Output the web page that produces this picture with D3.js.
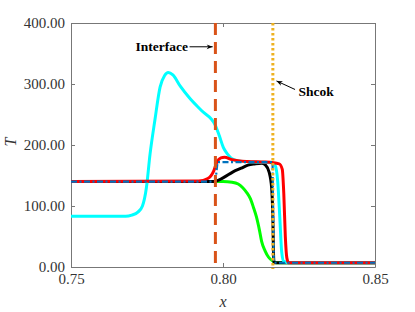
<!DOCTYPE html>
<html>
<head>
<meta charset="utf-8">
<script src="https://cdn.jsdelivr.net/npm/d3@7"></script>
<style>
  body { margin: 0; background: #fff; }
  svg text { font-family: "Liberation Serif", "Times New Roman", serif; }
</style>
</head>
<body>
<svg id="chart" width="415" height="312"></svg>
<script>
// temperature profiles
var cyanX = [0.75, 0.768, 0.770, 0.772, 0.7735, 0.7748, 0.776, 0.7776, 0.7793, 0.7808, 0.782, 0.7835, 0.786, 0.789, 0.793, 0.7974, 0.7988, 0.8001, 0.8015, 0.8028, 0.805, 0.810, 0.8160, 0.8172, 0.8180, 0.8187, 0.8193, 0.8200, 0.822, 0.85];
var cyanT = [83, 83, 85, 90, 100, 130, 185, 241, 295, 314, 319, 315, 296, 277, 256, 233, 215, 196, 185, 178, 174, 172, 171, 166, 140, 80, 25, 9, 7, 7];

var greenX = [0.75, 0.800, 0.803, 0.805, 0.8065, 0.8078, 0.809, 0.810, 0.811, 0.812, 0.8127, 0.8138, 0.815, 0.8166, 0.8175, 0.85];
var greenT = [140, 140, 139, 136, 130, 122, 112, 98, 82, 60, 42, 27, 16, 9, 7, 7];

var blackX = [0.75, 0.797, 0.800, 0.8033, 0.806, 0.8082, 0.8105, 0.8127, 0.8140, 0.8152, 0.8160, 0.8164, 0.8166, 0.8168, 0.85];
var blackT = [140, 140, 146, 156, 162, 167, 169, 170, 167, 155, 130, 80, 25, 7, 7];

var redX = [0.75, 0.792, 0.795, 0.797, 0.798, 0.7993, 0.8005, 0.803, 0.808, 0.814, 0.8185, 0.8195, 0.8200, 0.8205, 0.8210, 0.8216, 0.85];
var redT = [140, 141, 145, 158, 172, 179, 180, 176, 173, 172, 169, 160, 120, 50, 15, 7, 7];

var blueX = [0.75, 0.7975, 0.7982, 0.8163, 0.8167, 0.85];
var blueT = [140, 140, 172, 172, 7, 7];

var interfaceX = 0.7975;
var shockX = 0.8164;

var xTicks = [0.75, 0.80, 0.85];
var yTicks = [0, 100, 200, 300, 400];

var margin = {top: 23, right: 40, bottom: 45, left: 71};
var width = 415 - margin.left - margin.right;
var height = 312 - margin.top - margin.bottom;

var svg = d3.select("#chart");

svg.append("defs").append("marker")
    .attr("id", "arrow")
    .attr("viewBox", "0 0 10 10")
    .attr("refX", 10).attr("refY", 5)
    .attr("markerWidth", 9).attr("markerHeight", 6)
    .attr("markerUnits", "userSpaceOnUse")
    .attr("orient", "auto")
    .append("path")
    .attr("d", "M0,1 L10,5 L0,9 L3,5 Z")
    .attr("fill", "#000");

var g = svg.append("g").attr("transform", "translate(" + margin.left + "," + margin.top + ")");

var x = d3.scaleLinear().domain([0.75, 0.85]).range([0, width]);
var y = d3.scaleLinear().domain([0, 400]).range([height, 0]);

// axes with inward ticks, box on
var axisColor = "#777";
var xAxis = g.append("g").attr("transform", "translate(0," + height + ")")
    .call(d3.axisBottom(x).tickValues(xTicks).tickFormat(d3.format(".2f")).tickSizeInner(-4).tickSizeOuter(0).tickPadding(6));
var yAxis = g.append("g")
    .call(d3.axisLeft(y).tickValues(yTicks).tickFormat(d3.format(".2f")).tickSizeInner(-4).tickSizeOuter(0).tickPadding(6));
var xTop = g.append("g")
    .call(d3.axisTop(x).tickValues(xTicks).tickFormat("").tickSizeInner(-4).tickSizeOuter(0));
var yRight = g.append("g").attr("transform", "translate(" + width + ",0)")
    .call(d3.axisRight(y).tickValues(yTicks).tickFormat("").tickSizeInner(-4).tickSizeOuter(0));

[xAxis, yAxis, xTop, yRight].forEach(function(a) {
    a.selectAll("path, line").attr("stroke", axisColor);
    a.selectAll("text").attr("fill", "#333").style("font-size", "15px");
});

g.append("text")
    .attr("x", x(0.80)).attr("y", height + 40)
    .attr("text-anchor", "middle")
    .style("font-size", "16px").style("font-style", "italic")
    .attr("fill", "#333")
    .text("x");

g.append("text")
    .attr("transform", "translate(" + (-55) + "," + y(205) + ") rotate(-90)")
    .attr("text-anchor", "middle")
    .style("font-size", "16px").style("font-style", "italic")
    .attr("fill", "#333")
    .text("T");

function series(xs, ts) {
    return xs.map(function(v, i) { return [v, ts[i]]; });
}

var smooth = d3.line().curve(d3.curveMonotoneX)
    .x(function(d) { return x(d[0]); })
    .y(function(d) { return y(d[1]); });
var straight = d3.line()
    .x(function(d) { return x(d[0]); })
    .y(function(d) { return y(d[1]); });

var plot = g.append("g");

plot.append("path").datum(series(greenX, greenT))
    .attr("d", smooth).attr("fill", "none").attr("stroke", "#00FF00").attr("stroke-width", 3);
plot.append("path").datum(series(blackX, blackT))
    .attr("d", smooth).attr("fill", "none").attr("stroke", "#000").attr("stroke-width", 3);
plot.append("path").datum(series(cyanX, cyanT))
    .attr("d", smooth).attr("fill", "none").attr("stroke", "#00FFFF").attr("stroke-width", 3);
plot.append("path").datum(series(redX, redT))
    .attr("d", smooth).attr("fill", "none").attr("stroke", "#FF0000").attr("stroke-width", 3);
plot.append("path").datum(series(blueX, blueT))
    .attr("d", straight).attr("fill", "none").attr("stroke", "#0072BD").attr("stroke-width", 2.2)
    .attr("stroke-dasharray", "6,2.5,2,2.5");

// interface and shock markers
plot.append("line")
    .attr("x1", x(interfaceX)).attr("x2", x(interfaceX))
    .attr("y1", y(400)).attr("y2", height + 2)
    .attr("stroke", "#D95319").attr("stroke-width", 3)
    .attr("stroke-dasharray", "12,7");
plot.append("line")
    .attr("x1", x(shockX)).attr("x2", x(shockX))
    .attr("y1", y(400)).attr("y2", height + 2)
    .attr("stroke", "#EDB120").attr("stroke-width", 3)
    .attr("stroke-dasharray", "2.5,2.5");

// annotations
g.append("line")
    .attr("x1", x(0.7890)).attr("y1", y(361))
    .attr("x2", x(0.7966)).attr("y2", y(361))
    .attr("stroke", "#000").attr("stroke-width", 1)
    .attr("marker-end", "url(#arrow)");
g.append("text")
    .attr("x", x(0.7885)).attr("y", y(361) + 4.5)
    .attr("text-anchor", "end")
    .style("font-size", "13.5px").style("font-weight", "bold")
    .text("Interface");

g.append("line")
    .attr("x1", x(0.8237)).attr("y1", y(291))
    .attr("x2", x(0.8176)).attr("y2", y(305))
    .attr("stroke", "#000").attr("stroke-width", 1)
    .attr("marker-end", "url(#arrow)");
g.append("text")
    .attr("x", x(0.8248)).attr("y", y(281))
    .style("font-size", "13.5px").style("font-weight", "bold")
    .text("Shcok");
</script>
</body>
</html>
